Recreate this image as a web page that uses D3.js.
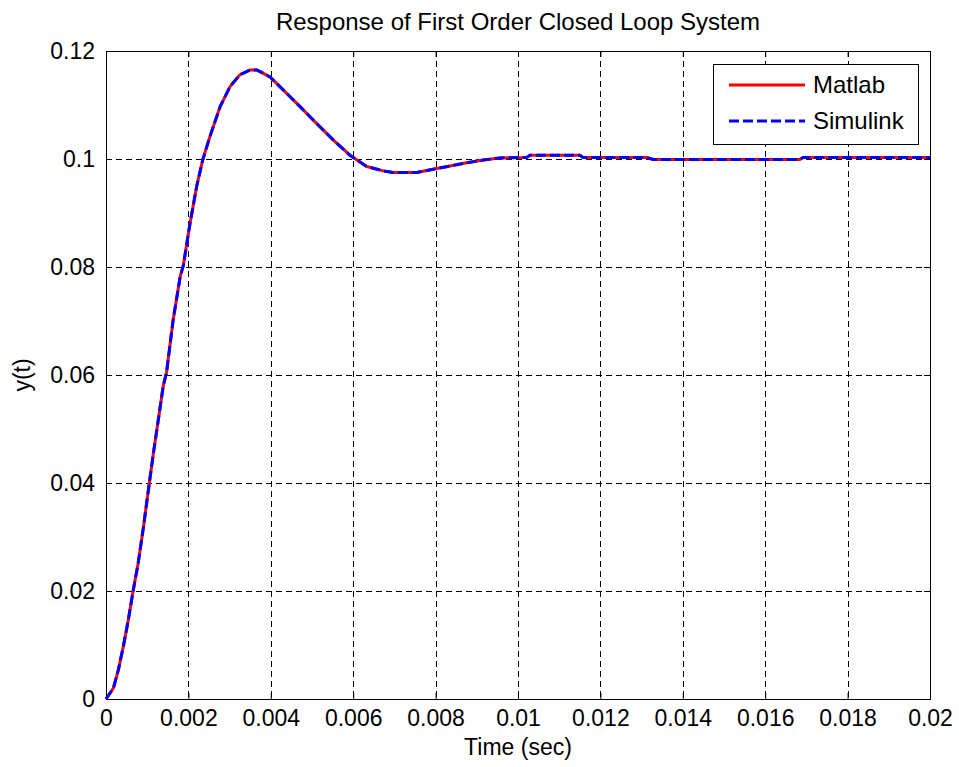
<!DOCTYPE html>
<html>
<head>
    <meta charset="UTF-8">
    <title>Response of First Order Closed Loop System</title>
    <script src="https://d3js.org/d3.v7.min.js"></script>
    <style>
        body { margin: 0; background: #ffffff; }
        text { font-family: "Liberation Sans", Arial, sans-serif; fill: #000000; }
    </style>
</head>
<body>
    <div id="chart-container"></div>
    <script>
        // Sample times (sec)
        var timeSec = [0, 0.00018, 0.0003, 0.00042, 0.00054, 0.00066, 0.00078, 0.00091, 0.00105, 0.00115,
            0.00127, 0.00139, 0.00147, 0.00163, 0.0018, 0.00188, 0.00204, 0.0022, 0.00235, 0.00252,
            0.00277, 0.00301, 0.00325, 0.0035, 0.00366, 0.00398, 0.0043, 0.00471, 0.00511, 0.00552,
            0.00592, 0.00633, 0.00673, 0.00697, 0.00754, 0.00794, 0.00835, 0.00875, 0.00916, 0.00956,
            0.01021, 0.01029, 0.0115, 0.01158, 0.01312, 0.01328, 0.01684, 0.01692, 0.02];

        // Matlab response y(t)
        var matlabY = [0, 0.0020, 0.0054, 0.0097, 0.0146, 0.0201, 0.0251, 0.0319, 0.0399, 0.0455,
            0.0517, 0.0580, 0.0605, 0.0702, 0.0782, 0.0804, 0.0881, 0.0949, 0.0999, 0.1041,
            0.1097, 0.1134, 0.1156, 0.1165, 0.1165, 0.1152, 0.1128, 0.1097, 0.1066, 0.1035,
            0.1007, 0.0986, 0.0978, 0.0975, 0.0975, 0.0981, 0.0987, 0.0993, 0.0998, 0.1002,
            0.1003, 0.1007, 0.1007, 0.1003, 0.1003, 0.0999, 0.0999, 0.1003, 0.1003];

        // Simulink response y(t) (lies on top of the Matlab curve)
        var simulinkY = [0, 0.0020, 0.0054, 0.0097, 0.0146, 0.0201, 0.0251, 0.0319, 0.0399, 0.0455,
            0.0517, 0.0580, 0.0605, 0.0702, 0.0782, 0.0804, 0.0881, 0.0949, 0.0999, 0.1041,
            0.1097, 0.1134, 0.1156, 0.1165, 0.1165, 0.1152, 0.1128, 0.1097, 0.1066, 0.1035,
            0.1007, 0.0986, 0.0978, 0.0975, 0.0975, 0.0981, 0.0987, 0.0993, 0.0998, 0.1002,
            0.1003, 0.1007, 0.1007, 0.1003, 0.1003, 0.0999, 0.0999, 0.1003, 0.1003];

        var xTicks = [0, 0.002, 0.004, 0.006, 0.008, 0.01, 0.012, 0.014, 0.016, 0.018, 0.02];
        var yTicks = [0, 0.02, 0.04, 0.06, 0.08, 0.1, 0.12];
        var seriesNames = ["Matlab", "Simulink"];

        var width = 959;
        var height = 767;
        var margin = { top: 51, right: 29, bottom: 68, left: 106 };
        var plotW = width - margin.left - margin.right;
        var plotH = height - margin.top - margin.bottom;

        var svg = d3.select("#chart-container")
            .append("svg")
            .attr("width", width)
            .attr("height", height)
            .style("display", "block");

        svg.append("rect").attr("width", width).attr("height", height).attr("fill", "#ffffff");

        var g = svg.append("g")
            .attr("transform", "translate(" + margin.left + "," + margin.top + ")");

        var x = d3.scaleLinear().domain([0, 0.02]).range([0, plotW]);
        var y = d3.scaleLinear().domain([0, 0.12]).range([plotH, 0]);

        var fmt = function(d) { return String(+d.toFixed(6)); };

        // dashed grid
        g.append("g").selectAll("line")
            .data(xTicks.slice(1, -1))
            .enter().append("line")
            .attr("x1", function(d) { return Math.round(x(d)) + 0.5; })
            .attr("x2", function(d) { return Math.round(x(d)) + 0.5; })
            .attr("y1", 0).attr("y2", plotH)
            .attr("stroke", "#000").attr("stroke-width", 1).attr("stroke-dasharray", "6,4");

        g.append("g").selectAll("line")
            .data(yTicks.slice(1, -1))
            .enter().append("line")
            .attr("y1", function(d) { return Math.round(y(d)) + 0.5; })
            .attr("y2", function(d) { return Math.round(y(d)) + 0.5; })
            .attr("x1", 0).attr("x2", plotW)
            .attr("stroke", "#000").attr("stroke-width", 1).attr("stroke-dasharray", "6,4");

        // axes with inward ticks, on all four sides
        var bottomAxis = g.append("g")
            .attr("transform", "translate(0," + plotH + ")")
            .call(d3.axisBottom(x).tickValues(xTicks).tickFormat(fmt).tickSize(-6).tickPadding(11));
        var topAxis = g.append("g")
            .call(d3.axisTop(x).tickValues(xTicks).tickFormat("").tickSize(-6));
        var leftAxis = g.append("g")
            .call(d3.axisLeft(y).tickValues(yTicks).tickFormat(fmt).tickSize(-6).tickPadding(11));
        var rightAxis = g.append("g")
            .attr("transform", "translate(" + plotW + ",0)")
            .call(d3.axisRight(y).tickValues(yTicks).tickFormat("").tickSize(-6));

        [bottomAxis, topAxis, leftAxis, rightAxis].forEach(function(a) {
            a.selectAll(".domain").remove();
            a.selectAll("line").attr("stroke", "#000");
            a.selectAll("text").attr("font-size", "23px").attr("font-family", "Liberation Sans, Arial, sans-serif");
        });

        // box
        g.append("rect")
            .attr("x", 0.5).attr("y", 0.5)
            .attr("width", plotW).attr("height", plotH)
            .attr("fill", "none").attr("stroke", "#000").attr("stroke-width", 1);

        // curves
        var lineMatlab = d3.line()
            .x(function(d, i) { return x(timeSec[i]); })
            .y(function(d) { return y(d); });

        g.append("path")
            .datum(matlabY)
            .attr("d", lineMatlab)
            .attr("fill", "none")
            .attr("stroke", "#ff0000")
            .attr("stroke-width", 3)
            .attr("stroke-linejoin", "round");

        g.append("path")
            .datum(simulinkY)
            .attr("d", lineMatlab)
            .attr("fill", "none")
            .attr("stroke", "#0000ff")
            .attr("stroke-width", 3)
            .attr("stroke-dasharray", "10,4");

        // title and labels
        svg.append("text")
            .attr("x", margin.left + plotW / 2)
            .attr("y", 30)
            .attr("text-anchor", "middle")
            .attr("font-size", "24px")
            .text("Response of First Order Closed Loop System");

        svg.append("text")
            .attr("x", margin.left + plotW / 2)
            .attr("y", 755)
            .attr("text-anchor", "middle")
            .attr("font-size", "23px")
            .text("Time (sec)");

        svg.append("text")
            .attr("transform", "translate(30," + (margin.top + plotH / 2) + ") rotate(-90)")
            .attr("text-anchor", "middle")
            .attr("font-size", "23px")
            .text("y(t)");

        // legend
        var legend = svg.append("g").attr("transform", "translate(713,64)");
        legend.append("rect")
            .attr("x", 0.5).attr("y", 0.5)
            .attr("width", 205).attr("height", 80)
            .attr("fill", "#ffffff").attr("stroke", "#000").attr("stroke-width", 1);

        var legendItems = legend.selectAll(".item")
            .data(seriesNames)
            .enter().append("g")
            .attr("class", "item")
            .attr("transform", function(d, i) { return "translate(0," + (21 + i * 36) + ")"; });

        legendItems.append("line")
            .attr("x1", 16).attr("x2", 92)
            .attr("stroke", function(d, i) { return i === 0 ? "#ff0000" : "#0000ff"; })
            .attr("stroke-width", 3)
            .attr("stroke-dasharray", function(d, i) { return i === 0 ? null : "10,4"; });

        legendItems.append("text")
            .attr("x", 100)
            .attr("dy", "0.35em")
            .attr("font-size", "24px")
            .text(function(d) { return d; });
    </script>
</body>
</html>
